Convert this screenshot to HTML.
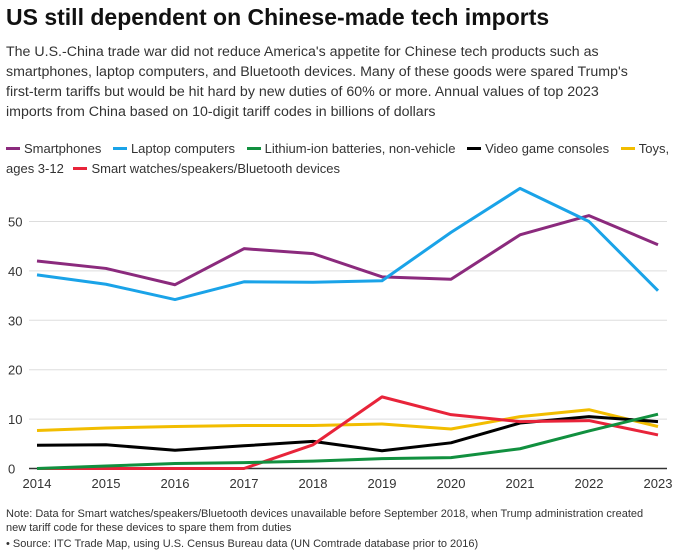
<!DOCTYPE html>
<html><head><meta charset="utf-8"><style>
body{margin:0;width:676px;height:560px;background:#fff;font-family:"Liberation Sans",sans-serif;color:#222;overflow:hidden;position:relative}
h1{position:absolute;left:6px;top:4px;margin:0;font-size:23px;font-weight:bold;color:#111}
.desc{position:absolute;left:6px;top:42px;width:666px;font-size:14.2px;line-height:20px;color:#333}
.legend{position:absolute;left:6px;top:139px;width:668px;font-size:13px;line-height:20px;color:#333}
.li{display:inline-block;margin-right:8px}
.sw{display:inline-block;width:14px;height:3px;vertical-align:middle;margin-right:4px;margin-top:-2px}
.note{position:absolute;left:6px;top:508px;font-size:11px;line-height:13.5px;color:#333;width:660px}
svg{position:absolute;left:0;top:0}
</style></head><body>
<h1>US still dependent on Chinese-made tech imports</h1>
<div class="desc">The U.S.-China trade war did not reduce America's appetite for Chinese tech products such as<br>smartphones, laptop computers, and Bluetooth devices. Many of these goods were spared Trump's<br>first-term tariffs but would be hit hard by new duties of 60% or more. Annual values of top 2023<br>imports from China based on 10-digit tariff codes in billions of dollars</div>
<div class="legend">
<span class="li"><span class="sw" style="background:#8b2a7d"></span>Smartphones</span>
<span class="li"><span class="sw" style="background:#1aa3e8"></span>Laptop computers</span>
<span class="li"><span class="sw" style="background:#11903f"></span>Lithium-ion batteries, non-vehicle</span>
<span class="li"><span class="sw" style="background:#000"></span>Video game consoles</span>
<span class="li" style="margin-right:0"><span class="sw" style="background:#f2bd00"></span>Toys,</span><br>ages 3-12 
<span class="li" style="margin-left:6px"><span class="sw" style="background:#e8243a"></span>Smart watches/speakers/Bluetooth devices</span>
</div>
<svg id="chart" width="676" height="560"></svg>
<div class="note">Note: Data for Smart watches/speakers/Bluetooth devices unavailable before September 2018, when Trump administration created<br>new tariff code for these devices to spare them from duties<br><span style="display:block;margin-top:3px">• Source: ITC Trade Map, using U.S. Census Bureau data (UN Comtrade database prior to 2016)</span></div>
<script>
const years=[2014,2015,2016,2017,2018,2019,2020,2021,2022,2023];
const yTicks=[0,10,20,30,40,50];
const smartphones=[42,40.5,37.2,44.5,43.5,38.8,38.3,47.3,51.2,45.3];
const laptops=[39.2,37.3,34.2,37.8,37.7,38,47.8,56.7,50,36];
const lithium=[0,0.5,1,1.2,1.5,2,2.2,4,7.6,11];
const consoles=[4.7,4.8,3.7,4.6,5.5,3.6,5.2,9.2,10.5,9.5];
const toys=[7.7,8.2,8.5,8.7,8.7,9,8,10.5,11.9,8.5];
const smartwatches=[0,0,0,0,4.8,14.5,10.9,9.5,9.7,6.8];
const series=[["smartphones",smartphones,"#8b2a7d"],["laptops",laptops,"#1aa3e8"],["toys",toys,"#f2bd00"],["consoles",consoles,"#000"],["smartwatches",smartwatches,"#e8243a"],["lithium",lithium,"#11903f"]];
const NS="http://www.w3.org/2000/svg",svg=document.getElementById('chart');
const x=i=>37+i*(658-37)/(years.length-1);
const y=v=>468.5-v*4.94;
function mk(t,a){const e=document.createElementNS(NS,t);for(const k in a)e.setAttribute(k,a[k]);svg.appendChild(e);return e;}
yTicks.forEach(t=>{
 const l=mk('line',{x1:29,x2:667,y1:y(t),y2:y(t),stroke:t?'#ddd':'#333','stroke-width':t?1:1.5});
 
 
 const tx=mk('text',{x:8,y:y(t)+5,'font-size':13,fill:'#333'});tx.textContent=t;
 
 
});
years.forEach((yr,i)=>{
 const tx=mk('text',{x:x(i),y:488,'font-size':13,fill:'#333','text-anchor':'middle'});tx.textContent=yr;
 
 
});
series.forEach(([n,d,c])=>{
 const p=mk('polyline',{points:d.map((v,i)=>x(i)+','+y(v)).join(' '),fill:'none',stroke:c,'stroke-width':3,'stroke-linejoin':'round'});
 
 
});
</script>
</body></html>
